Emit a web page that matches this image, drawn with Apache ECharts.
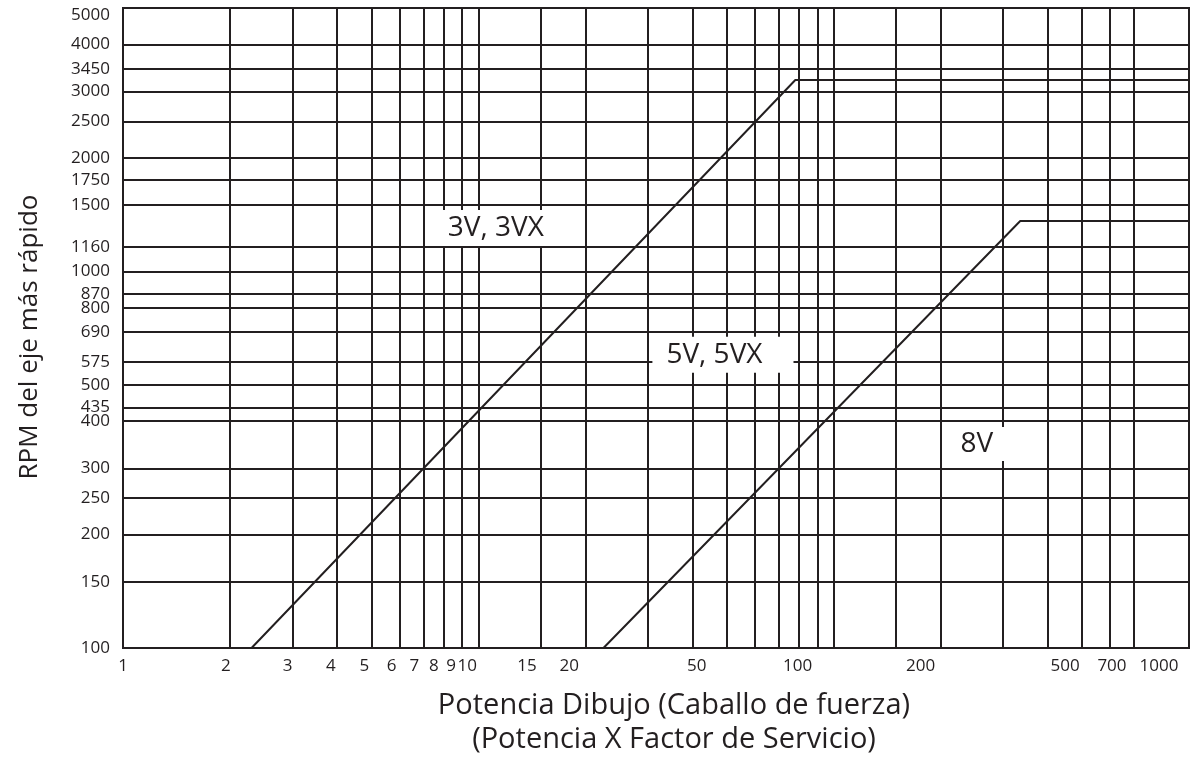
<!DOCTYPE html>
<html><head><meta charset="utf-8">
<script src="https://cdn.jsdelivr.net/npm/echarts@6/dist/echarts.min.js"></script>
<style>html,body{margin:0;padding:0;background:#fff}#c{width:1191px;height:766px}</style>
</head><body><div id="c"></div>
<script>
// grid lines / tick labels (horsepower, log scale)
const xGridValues = [1,2,3,4,5,6,7,8,9,10,15,20,30,40,50,60,70,80,90,100,150,200,300,400,500,600,700,1000];
const xTickLabels = [1,2,3,4,5,6,7,8,9,10,15,20,50,100,200,500,700,1000];
// rpm tick labels (log scale)
const yTickLabels = [100,150,200,250,300,400,435,500,575,690,800,870,1000,1160,1500,1750,2000,2500,3000,3450,4000,5000];
// boundary lines [hp, rpm]
const line3V = [[2.3,100],[78,3220],[1000,3220]];
const line5V = [[22.5,100],[335,1360],[1000,1360]];
// region labels and their anchor points [hp, rpm]
const regionNames = ['3V, 3VX','5V, 5VX','8V'];
const regionAnchors = [[11.2,1303],[48.8,600],[253,348]];

const ink = '#231f20';
const pads = [[3,11,3,11],[3,31,3,14],[2,13,2,13]];
const plain = v => String(Math.round(v));
const yMax = 5000;
// style: leftward nudge (px) of the x tick labels, as printed in the source chart
const xLabelNudge = {1:0,2:4,3:5,4:6,5:7,6:8,7:9,8:10,9:11,10:11,15:14,20:16,50:30,100:36,200:20,500:17,700:22,1000:30};
const xRich = {};
Object.keys(xLabelNudge).forEach(k => {
  xRich['n' + k] = {fontSize:17,color:ink,fontFamily:'Open Sans',padding:[0, 2 * xLabelNudge[k], 0, 0]};
});
const chart = echarts.init(document.getElementById('c'));
chart.setOption({
  animation:false,
  backgroundColor:'#fff',
  textStyle:{fontFamily:'Open Sans'},
  grid:{left:123,right:2,top:8,bottom:118,show:true,borderColor:ink,borderWidth:2,
        containLabel:false,outerBoundsMode:'none'},
  xAxis:{
    type:'log',logBase:10,min:1,max:1000,
    axisLine:{show:true,lineStyle:{color:ink,width:2}},
    axisTick:{show:false,customValues:xGridValues},
    splitLine:{show:true,lineStyle:{color:ink,width:2}},
    axisLabel:{customValues:xTickLabels,color:ink,fontSize:17,margin:10,fontFamily:'Open Sans',
               formatter:v => { const k = plain(v); return xRich['n' + k] ? '{n' + k + '|' + k + '}' : k; },
               rich:xRich},
    name:'Potencia Dibujo (Caballo de fuerza)\n(Potencia X Factor de Servicio)',
    nameLocation:'middle',nameGap:41,
    nameTextStyle:{fontSize:29,color:ink,lineHeight:34,padding:[0,0,0,36],fontFamily:'Open Sans'}
  },
  yAxis:{
    type:'log',logBase:10,min:100,max:yMax,
    axisLine:{show:true,lineStyle:{color:ink,width:2}},
    axisTick:{show:false,customValues:yTickLabels},
    splitLine:{show:true,lineStyle:{color:ink,width:2}},
    axisLabel:{customValues:yTickLabels,color:ink,fontSize:17,margin:13,fontFamily:'Open Sans',
               formatter:v => Math.round(v) >= yMax ? '{top|' + plain(v) + '}' : plain(v),
               rich:{top:{fontSize:17,color:ink,padding:[14,0,0,0],fontFamily:'Open Sans'}}},
    name:'RPM del eje más rápido',
    nameLocation:'middle',nameRotate:90,nameGap:80,
    nameTextStyle:{fontSize:26,color:ink,padding:[0,18,0,0],fontFamily:'Open Sans'}
  },
  series:[
    {type:'line',data:line3V,symbol:'none',lineStyle:{color:ink,width:2},z:3,
     markPoint:{symbol:'circle',symbolSize:1,itemStyle:{color:'rgba(0,0,0,0)'},silent:true,
       data:regionNames.map((n,i)=>({coord:regionAnchors[i],value:n,label:{padding:pads[i]}})),
       label:{show:true,position:'inside',formatter:p=>p.value,fontSize:28,lineHeight:30,color:ink,
         backgroundColor:'#fff',fontFamily:'Open Sans'}}},
    {type:'line',data:line5V,symbol:'none',lineStyle:{color:ink,width:2},z:3}
  ]
});
</script></body></html>
